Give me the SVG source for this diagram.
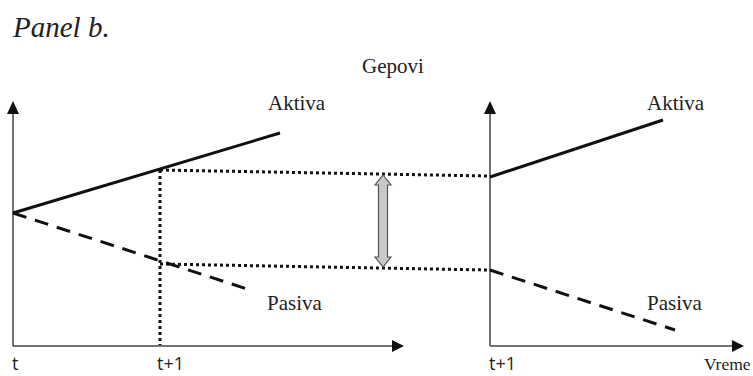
<svg xmlns="http://www.w3.org/2000/svg" width="753" height="376" viewBox="0 0 753 376">
<style>
.serif{font-family:"Liberation Serif","Times New Roman",serif;font-size:21px;fill:#222}
.sans{font-family:"Open Sans","Liberation Sans",sans-serif;font-size:18px;fill:#222}
.axis{stroke:#444;stroke-width:1.5;fill:none}
.solid{stroke:#111;stroke-width:3;fill:none}
.dash{stroke:#111;stroke-width:3;fill:none;stroke-dasharray:14,9}
.dot{stroke:#111;stroke-width:3;fill:none;stroke-dasharray:3,3}
</style>
<rect width="753" height="376" fill="#fff"/>
<text x="13" y="37" style="font-family:'Liberation Serif','Times New Roman',serif;font-size:29px;font-style:italic;fill:#222">Panel b.</text>
<text x="362" y="73" class="serif">Gepovi</text>
<g id="connectors">
<g id="left-axes">
<line x1="13" y1="346" x2="13" y2="112" class="axis"/>
<path d="M7,114 L13,101 L19,114 z" fill="#111"/>
<line x1="13" y1="346" x2="394" y2="346" class="axis"/>
<path d="M392,340 L404,346 L392,352 z" fill="#111"/>
</g>
<g id="right-axes">
<line x1="490" y1="346" x2="490" y2="112" class="axis"/>
<path d="M484,114 L490,101 L496,114 z" fill="#111"/>
<line x1="490" y1="346" x2="734" y2="346" class="axis"/>
<path d="M732,340 L744,346 L732,352 z" fill="#111"/>
</g>
<line id="aktiva-left" x1="13" y1="213" x2="280" y2="133" class="solid"/>
<line id="pasiva-left" x1="13" y1="213" x2="247" y2="289" class="dash"/>
<line id="aktiva-right" x1="490" y1="177" x2="663" y2="120" class="solid"/>
<line id="pasiva-right" x1="490" y1="270" x2="675" y2="330" class="dash"/>
<line x1="160" y1="170" x2="160" y2="345" class="dot"/>
<line x1="160" y1="170" x2="488" y2="176" class="dot"/>
<line x1="160" y1="264" x2="488" y2="270" class="dot"/>
<path id="gap-arrow" d="M383,175 L391,185 L387.5,185 L387.5,257 L391,257 L383,267 L375,257 L378.5,257 L378.5,185 L375,185 z" fill="#c8c8c8" stroke="#555" stroke-width="1.2"/>
</g>
<g id="labels">
<text x="268" y="110" class="serif">Aktiva</text>
<text x="267" y="310" class="serif">Pasiva</text>
<text x="647" y="110" class="serif">Aktiva</text>
<text x="647" y="310" class="serif">Pasiva</text>
<text x="704" y="370" class="serif" style="font-size:17.5px">Vreme</text>
<text x="12" y="370" class="sans">t</text>
<text x="157" y="370" class="sans">t+1</text>
<text x="489" y="370" class="sans">t+1</text>
</g>
</svg>
